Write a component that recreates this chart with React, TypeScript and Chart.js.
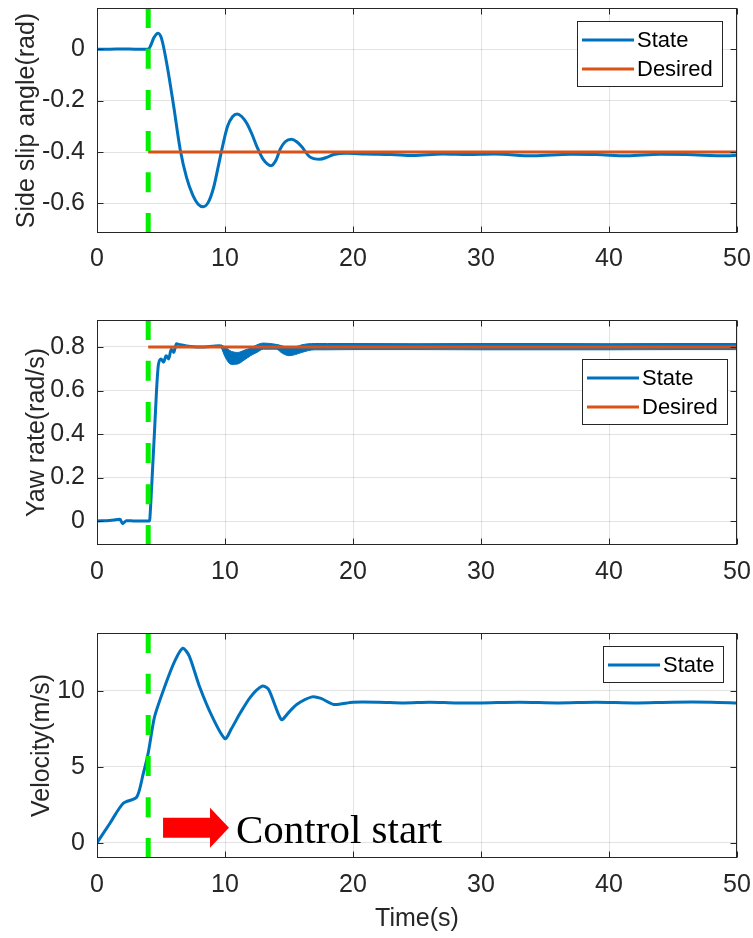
import React, { useEffect, useRef } from "react";
import { Chart, registerables } from "chart.js";

Chart.register(...registerables);

const BLUE = "#0072BD";
const ORANGE = "#D95319";
const GREEN = "#00F000";
const AXIS = "#262626";
const GRID = "rgba(38,38,38,0.13)";
const FONT = "'Liberation Sans', Arial, sans-serif";
const SERIF = "'Liberation Serif', 'Times New Roman', serif";

// ---- ticks ----
const timeTicks = [0, 10, 20, 30, 40, 50];
const sideTicks = [-0.6, -0.4, -0.2, 0];
const yawTicks = [0, 0.2, 0.4, 0.6, 0.8];
const velTicks = [0, 5, 10];

// ---- axis limits ----
const timeRange = [0, 50];
const sideRange = [-0.715, 0.16];
const yawRange = [-0.11, 0.924];
const velRange = [-1, 13.8];

// ---- control start ----
const controlStartT = 4;

// ---- side slip angle ----
const sideT = [0, 1, 2, 3, 4, 4.2, 4.45, 4.77, 5.05, 5.5, 6.0, 6.5, 7.0, 7.5, 7.9, 8.3, 8.7, 9.1, 9.5, 9.8, 10.2, 10.6, 10.95, 11.3, 11.7, 12.1, 12.5, 13.0, 13.6, 14.0, 14.3, 14.7, 15.2, 15.6, 16.0, 16.6, 17.4, 18.0, 18.5, 19.5, 21, 23, 24.7, 27, 29, 31, 34.1, 37, 39, 41.4, 44, 46, 49.2, 50];
const sideV = [0, 0, 0.001, 0, 0, 0.015, 0.045, 0.062, 0.04, -0.07, -0.225, -0.39, -0.5, -0.57, -0.603, -0.613, -0.595, -0.54, -0.45, -0.38, -0.3, -0.262, -0.252, -0.262, -0.288, -0.33, -0.38, -0.43, -0.453, -0.43, -0.39, -0.36, -0.35, -0.36, -0.38, -0.418, -0.428, -0.42, -0.41, -0.405, -0.408, -0.41, -0.414, -0.408, -0.41, -0.408, -0.415, -0.409, -0.41, -0.415, -0.409, -0.41, -0.415, -0.413];
const sideDesiredT = [4, 50];
const sideDesiredV = [-0.4, -0.4];

// ---- yaw rate ----
const yawT = [0, 1, 1.8, 2.0, 2.3, 3, 4.1, 4.2, 4.35, 4.5, 4.65, 4.8, 5.0, 5.2, 5.4, 5.6, 5.8, 6.0, 6.2, 6.5, 7, 8, 9, 9.6, 9.9, 10.3, 10.7, 11.2, 11.8, 12.4, 13, 13.6, 14.3, 14.6, 15, 15.6, 16.5, 17.5, 20, 25, 30, 35, 40, 45, 50];
const yawV = [0, 0.003, 0.008, -0.012, 0.002, 0, 0, 0.08, 0.25, 0.42, 0.6, 0.72, 0.745, 0.73, 0.76, 0.745, 0.79, 0.775, 0.815, 0.81, 0.805, 0.8, 0.803, 0.806, 0.79, 0.76, 0.75, 0.755, 0.77, 0.785, 0.8, 0.805, 0.8, 0.785, 0.78, 0.785, 0.795, 0.8, 0.802, 0.802, 0.802, 0.802, 0.802, 0.802, 0.802];
// noise envelope of the yaw rate signal
const yawBandT = [9.7, 10.0, 10.5, 11, 11.5, 12, 12.5, 13, 14, 14.5, 15, 15.5, 16, 17, 18, 20, 25, 30, 35, 40, 45, 50];
const yawBandHi = [0.81, 0.8, 0.78, 0.775, 0.785, 0.795, 0.81, 0.818, 0.812, 0.805, 0.795, 0.8, 0.81, 0.816, 0.816, 0.816, 0.815, 0.816, 0.816, 0.815, 0.816, 0.816];
const yawBandLo = [0.8, 0.755, 0.72, 0.722, 0.74, 0.76, 0.775, 0.79, 0.79, 0.77, 0.76, 0.765, 0.775, 0.787, 0.787, 0.788, 0.788, 0.787, 0.787, 0.787, 0.788, 0.788];
const yawDesiredT = [4, 50];
const yawDesiredV = [0.8, 0.8];

// ---- velocity ----
const velT = [0, 1.0, 2.05, 3.1, 3.6, 4.0, 4.5, 5.3, 6.1, 6.7, 7.2, 8.0, 9.0, 10.0, 10.5, 11.2, 12.0, 12.9, 13.4, 14.4, 14.9, 15.6, 16.8, 17.5, 18.5, 20, 22, 24, 26, 28, 30, 33, 36, 39, 42, 45, 48, 50];
const velV = [0, 1.27, 2.6, 3.0, 4.5, 5.9, 8.3, 10.3, 12.0, 12.8, 12.3, 10.3, 8.3, 6.85, 7.5, 8.55, 9.6, 10.3, 10.1, 8.1, 8.5, 9.1, 9.6, 9.5, 9.1, 9.25, 9.25, 9.2, 9.25, 9.2, 9.2, 9.25, 9.2, 9.25, 9.2, 9.25, 9.25, 9.2];

// ---- annotation (data units of the velocity axes) ----
const arrowShaftT = [5.16, 8.83];
const arrowShaftV = [0.33, 1.64];
const arrowHeadV = [-0.33, 2.3];
const arrowTipT = 10.31;
const noteText = "Control start";
const noteT = 10.86;
const noteV = 0;

const pts = (xs: number[], ys: number[]) => xs.map((x, i) => ({ x, y: ys[i] }));

const matlabPlugin = {
  id: "matlab",
  afterDatasetsDraw(chart: any, _args: any, opts: any) {
    const { ctx, chartArea: a, scales } = chart;
    const xs = scales.x;
    const ys = scales.y;
    ctx.save();
    if (opts.arrow) {
      const X = (v: number) => xs.getPixelForValue(v);
      const Y = (v: number) => ys.getPixelForValue(v);
      const ar = opts.arrow;
      const mid = (ar.shaftV[0] + ar.shaftV[1]) / 2;
      ctx.fillStyle = "#FF0000";
      ctx.beginPath();
      ctx.moveTo(X(ar.shaftT[0]), Y(ar.shaftV[1]));
      ctx.lineTo(X(ar.shaftT[1]), Y(ar.shaftV[1]));
      ctx.lineTo(X(ar.shaftT[1]), Y(ar.headV[1]));
      ctx.lineTo(X(ar.tipT), Y(mid));
      ctx.lineTo(X(ar.shaftT[1]), Y(ar.headV[0]));
      ctx.lineTo(X(ar.shaftT[1]), Y(ar.shaftV[0]));
      ctx.lineTo(X(ar.shaftT[0]), Y(ar.shaftV[0]));
      ctx.closePath();
      ctx.fill();
    }
    if (opts.note) {
      ctx.fillStyle = "#000";
      ctx.font = `41px ${SERIF}`;
      ctx.textAlign = "left";
      ctx.textBaseline = "alphabetic";
      ctx.fillText(opts.note.text, xs.getPixelForValue(opts.note.t), ys.getPixelForValue(opts.note.v));
    }
    // box
    ctx.strokeStyle = AXIS;
    ctx.lineWidth = 1;
    const L = Math.round(a.left) + 0.5;
    const R = Math.round(a.right) - 0.5;
    const T = Math.round(a.top) + 0.5;
    const B = Math.round(a.bottom) - 0.5;
    ctx.strokeRect(L, T, R - L, B - T);
    // inward ticks on all sides
    ctx.beginPath();
    xs.ticks.forEach((t: any) => {
      const p = Math.round(xs.getPixelForValue(t.value)) + 0.5;
      ctx.moveTo(p, B);
      ctx.lineTo(p, B - 6);
      ctx.moveTo(p, T);
      ctx.lineTo(p, T + 6);
    });
    ys.ticks.forEach((t: any) => {
      const p = Math.round(ys.getPixelForValue(t.value)) + 0.5;
      ctx.moveTo(L, p);
      ctx.lineTo(L + 6, p);
      ctx.moveTo(R, p);
      ctx.lineTo(R - 6, p);
    });
    ctx.stroke();
    // legend
    if (opts.legend) {
      const items = opts.legend;
      ctx.font = `22px ${FONT}`;
      const tw = Math.max(...items.map((i: any) => ctx.measureText(i.label).width));
      const w = Math.round(5 + 52 + 3 + tw + 9);
      const h = 7 + items.length * 29;
      const x0 = Math.round(a.right - opts.legendRight - w);
      const y0 = Math.round(a.top + opts.legendTop);
      ctx.fillStyle = "#fff";
      ctx.fillRect(x0, y0, w, h);
      ctx.strokeStyle = AXIS;
      ctx.lineWidth = 1;
      ctx.strokeRect(x0 + 0.5, y0 + 0.5, w, h);
      items.forEach((it: any, i: number) => {
        const cy = y0 + 4.5 + 29 * (i + 0.5);
        ctx.strokeStyle = it.color;
        ctx.lineWidth = 3;
        ctx.beginPath();
        ctx.moveTo(x0 + 5, cy);
        ctx.lineTo(x0 + 57, cy);
        ctx.stroke();
        ctx.fillStyle = "#000";
        ctx.textBaseline = "middle";
        ctx.textAlign = "left";
        ctx.fillText(it.label, x0 + 60, cy + 1);
      });
    }
    ctx.restore();
  },
};

const xScale = (h: number, pad: number, title?: { text: string; pb: number }) => ({
  type: "linear",
  min: timeRange[0],
  max: timeRange[1],
  afterBuildTicks: (s: any) => {
    s.ticks = timeTicks.map((v) => ({ value: v }));
  },
  afterFit: (s: any) => {
    s.height = h;
    s.paddingLeft = 0;
    s.paddingRight = 0;
    s.paddingTop = 0;
    s.paddingBottom = 0;
  },
  grid: { color: GRID, drawTicks: false, lineWidth: 1 },
  border: { display: false },
  ticks: {
    color: AXIS,
    font: { family: FONT, size: 25 },
    padding: pad,
    maxRotation: 0,
    autoSkip: false,
    callback: (v: any) => String(v),
  },
  title: title
    ? { display: true, text: title.text, color: AXIS, font: { family: FONT, size: 25 }, padding: { top: 0, bottom: title.pb } }
    : { display: false },
});

const yScale = (range: number[], ticks: number[], title: string, tp: number) => ({
  type: "linear",
  min: range[0],
  max: range[1],
  afterBuildTicks: (s: any) => {
    s.ticks = ticks.map((v) => ({ value: v }));
  },
  afterFit: (s: any) => {
    s.width = 97;
    s.paddingLeft = 0;
    s.paddingRight = 0;
    s.paddingTop = 0;
    s.paddingBottom = 0;
  },
  grid: { color: GRID, drawTicks: false, lineWidth: 1 },
  border: { display: false },
  ticks: {
    color: AXIS,
    font: { family: FONT, size: 25 },
    padding: 12,
    autoSkip: false,
    callback: (v: any) => String(v),
  },
  title: { display: true, text: title, color: AXIS, font: { family: FONT, size: 25 }, padding: { top: tp, bottom: 0 } },
});

const lineDs = (label: string, data: any[], color: string, width: number, order: number, extra: any = {}) => ({
  label,
  data,
  borderColor: color,
  backgroundColor: color,
  borderWidth: width,
  pointRadius: 0,
  cubicInterpolationMode: "monotone",
  order,
  ...extra,
});

const startLine = (range: number[]) =>
  lineDs("start", pts([controlStartT, controlStartT], [range[1], range[0]]), GREEN, 5, 0, {
    borderDash: [20, 21],
    borderCapStyle: "butt",
  });

const baseOptions = (padTop: number, x: any, y: any, plug: any) => ({
  animation: false,
  responsive: false,
  maintainAspectRatio: false,
  layout: { padding: { top: padTop, right: 16, left: 0, bottom: 0 } },
  scales: { x, y },
  plugins: { legend: { display: false }, tooltip: { enabled: false }, matlab: plug },
});

const buildSide = () => ({
  type: "line",
  data: {
    datasets: [
      startLine(sideRange),
      lineDs("Desired", pts(sideDesiredT, sideDesiredV), ORANGE, 3, 1),
      lineDs("State", pts(sideT, sideV), BLUE, 3, 2),
    ],
  },
  options: baseOptions(8, xScale(67, 11), yScale(sideRange, sideTicks, "Side slip angle(rad)", 12), {
    legend: [
      { label: "State", color: BLUE },
      { label: "Desired", color: ORANGE },
    ],
    legendRight: 15,
    legendTop: 13,
  }),
  plugins: [matlabPlugin],
});

const buildYaw = () => ({
  type: "line",
  data: {
    datasets: [
      startLine(yawRange),
      lineDs("Desired", pts(yawDesiredT, yawDesiredV), ORANGE, 3, 1),
      lineDs("State", pts(yawT, yawV), BLUE, 3, 2),
      lineDs("bandHi", pts(yawBandT, yawBandHi), BLUE, 1, 3),
      lineDs("bandLo", pts(yawBandT, yawBandLo), BLUE, 1, 4, { fill: 3, backgroundColor: BLUE }),
    ],
  },
  options: baseOptions(20, xScale(55, 12), yScale(yawRange, yawTicks, "Yaw rate(rad/s)", 22), {
    legend: [
      { label: "State", color: BLUE },
      { label: "Desired", color: ORANGE },
    ],
    legendRight: 10,
    legendTop: 39,
  }),
  plugins: [matlabPlugin],
});

const buildVel = () => ({
  type: "line",
  data: {
    datasets: [
      startLine(velRange),
      lineDs("State", pts(velT, velV), BLUE, 3, 2, { cubicInterpolationMode: "default", tension: 0.25 }),
    ],
  },
  options: baseOptions(33, xScale(80, 12, { text: "Time(s)", pb: 4 }), yScale(velRange, velTicks, "Velocity(m/s)", 27), {
    legend: [{ label: "State", color: BLUE }],
    legendRight: 14,
    legendTop: 13,
    arrow: { shaftT: arrowShaftT, shaftV: arrowShaftV, headV: arrowHeadV, tipT: arrowTipT },
    note: { text: noteText, t: noteT, v: noteV },
  }),
  plugins: [matlabPlugin],
});

function Panel({ top, height, build }: { top: number; height: number; build: () => any }) {
  const ref = useRef<HTMLCanvasElement>(null);
  useEffect(() => {
    const chart = new Chart(ref.current as HTMLCanvasElement, build());
    return () => chart.destroy();
  }, []);
  return (
    <canvas
      ref={ref}
      width={753}
      height={height}
      style={{ position: "absolute", left: 0, top, width: 753, height, display: "block" }}
    />
  );
}

export default function App() {
  return (
    <div style={{ position: "absolute", left: 0, top: 0, width: 753, height: 938, background: "#fff" }}>
      <Panel top={0} height={300} build={buildSide} />
      <Panel top={300} height={300} build={buildYaw} />
      <Panel top={600} height={338} build={buildVel} />
    </div>
  );
}
